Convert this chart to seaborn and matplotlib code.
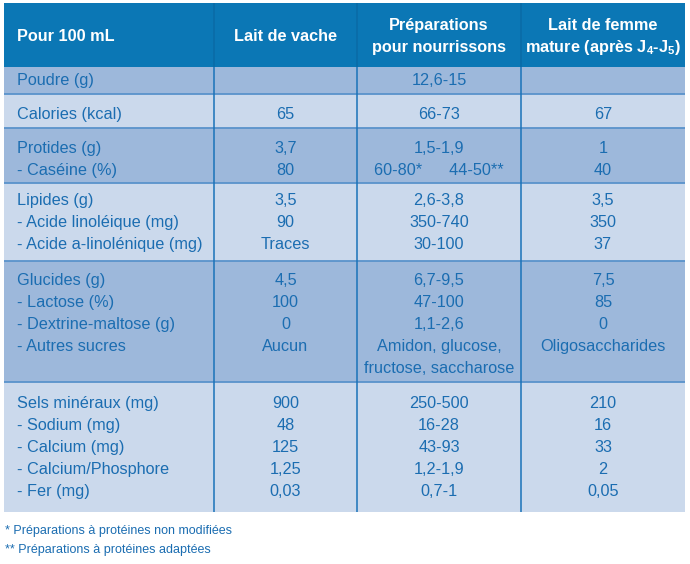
import numpy as np
import pandas as pd
import matplotlib.pyplot as plt
import seaborn as sns

sns.set_theme(style='white')
plt.rcParams['font.family'] = ['Liberation Sans', 'DejaVu Sans']
plt.rcParams['mathtext.fontset'] = 'custom'
plt.rcParams['mathtext.rm'] = 'Liberation Sans'
plt.rcParams['mathtext.bf'] = 'Liberation Sans:bold'

# --- table content ---
headers = ['Pour 100 mL', 'Lait de vache', 'Préparations\npour nourrissons',
           'Lait de femme\nmature (après J$_\\mathbf{4}$-J$_\\mathbf{5}$)']

labels = [
    ['Poudre (g)'],
    ['Calories (kcal)'],
    ['Protides (g)', '- Caséine (%)'],
    ['Lipides (g)', '- Acide linoléique (mg)', '- Acide a-linolénique (mg)'],
    ['Glucides (g)', '- Lactose (%)', '- Dextrine-maltose (g)', '- Autres sucres', ''],
    ['Sels minéraux (mg)', '- Sodium (mg)', '- Calcium (mg)', '- Calcium/Phosphore', '- Fer (mg)'],
]
lait_vache = [
    [''],
    ['65'],
    ['3,7', '80'],
    ['3,5', '90', 'Traces'],
    ['4,5', '100', '0', 'Aucun', ''],
    ['900', '48', '125', '1,25', '0,03'],
]
preparations = [
    ['12,6-15'],
    ['66-73'],
    ['1,5-1,9', '60-80*      44-50**'],
    ['2,6-3,8', '350-740', '30-100'],
    ['6,7-9,5', '47-100', '1,1-2,6', 'Amidon, glucose,', 'fructose, saccharose'],
    ['250-500', '16-28', '43-93', '1,2-1,9', '0,7-1'],
]
lait_femme = [
    [''],
    ['67'],
    ['1', '40'],
    ['3,5', '350', '37'],
    ['7,5', '85', '0', 'Oligosaccharides', ''],
    ['210', '16', '33', '2', '0,05'],
]
footnotes = ['* Préparations à protéines non modifiées',
             '** Préparations à protéines adaptées']

# --- layout (pixels) ---
x_edges = [4, 214, 357, 521, 685]
y_edges = [3, 67, 94, 128, 183, 261, 382, 512]
first_line = [12, 19, 19, 16, 18, 20]
line_step = 22
label_x = 17
base_off = 6

header_col = '#0b77b5'
band_cols = ['#9db8db', '#cbd9ec']
text_col = '#1b6db1'
fs = 11.7

fig = plt.figure(figsize=(6.9, 5.64), dpi=100)
ax = fig.add_axes([0, 0, 1, 1])
ax.set_xlim(0, 690)
ax.set_ylim(564, 0)
ax.axis('off')

left, right = x_edges[0], x_edges[-1]

# header band
ax.barh((y_edges[0] + y_edges[1]) / 2, right - left, height=y_edges[1] - y_edges[0],
        left=left, color=header_col, linewidth=0)

# group bands
tops = np.array(y_edges[1:-1])
bots = np.array(y_edges[2:])
ax.barh((tops + bots) / 2, right - left, height=bots - tops, left=left,
        color=[band_cols[i % 2] for i in range(len(tops))], linewidth=0)

# separators
for y in y_edges[2:-1]:
    ax.plot([left, right], [y, y], color='#5a93cb', lw=1.3, solid_capstyle='butt')
for x in x_edges[1:-1]:
    ax.plot([x, x], [y_edges[0], y_edges[1]], color='#0a6aa6', lw=1.1, solid_capstyle='butt')
    ax.plot([x, x], [y_edges[1], y_edges[-1]], color='#1a72b8', lw=1.1, solid_capstyle='butt')

# header text
centers = [(x_edges[i] + x_edges[i + 1]) / 2 for i in range(len(x_edges) - 1)]
hmid = (y_edges[0] + y_edges[1]) / 2
for i, h in enumerate(headers):
    lines = h.split('\n')
    n = len(lines)
    for j, ln in enumerate(lines):
        y = hmid + (j - (n - 1) / 2) * line_step + base_off
        x = label_x if i == 0 else centers[i]
        ax.text(x, y, ln, ha='left' if i == 0 else 'center', va='baseline',
                color='white', fontsize=fs, fontweight='bold')

# body text
for g in range(len(labels)):
    y0 = y_edges[g + 1] + first_line[g]
    for k in range(len(labels[g])):
        y = y0 + k * line_step + base_off
        ax.text(label_x, y, labels[g][k], ha='left', va='baseline', color=text_col, fontsize=fs)
        for c, col in enumerate([lait_vache, preparations, lait_femme]):
            ax.text(centers[c + 1], y, col[g][k], ha='center', va='baseline',
                    color=text_col, fontsize=fs)

# footnotes
for k, fn in enumerate(footnotes):
    ax.text(5, 534 + k * 19, fn, ha='left', va='baseline', color=text_col, fontsize=9)

fig.savefig('out.png', dpi=100)
